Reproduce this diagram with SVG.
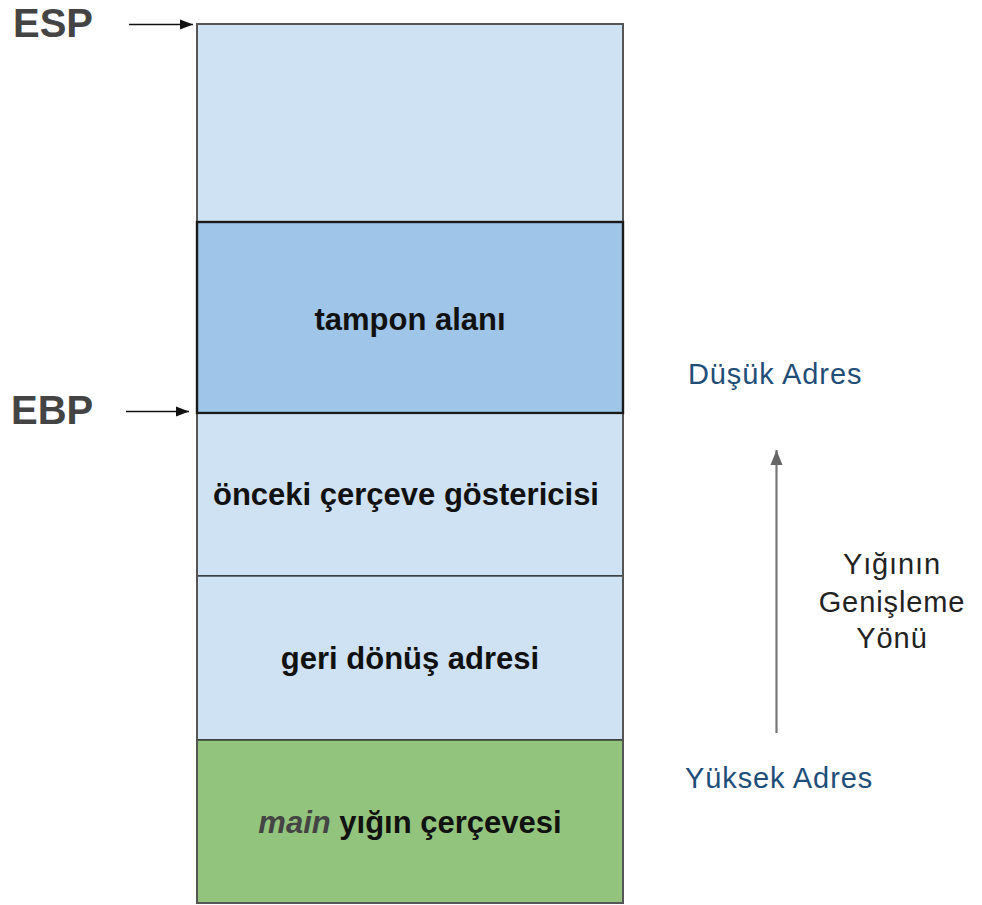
<svg xmlns="http://www.w3.org/2000/svg" width="982" height="905" viewBox="0 0 982 905">
  <style>
    .cell { stroke: #222; stroke-width: 1.2; }
    .light { fill: #cfe2f3; }
    .buf { fill: #9fc5e8; stroke: #1a1a1a; stroke-width: 2.2; }
    .main { fill: #93c47d; }
    .lbl { font-family: "Liberation Sans", Arial, sans-serif; font-weight: bold; font-size: 31px; fill: #111; text-anchor: middle; }
    .reg { font-family: "Liberation Sans", Arial, sans-serif; font-weight: bold; font-size: 40px; fill: #444; }
    .addr { font-family: "Liberation Sans", Arial, sans-serif; font-size: 29px; fill: #1f4e79; letter-spacing: 0.9px; }
    .dir { font-family: "Liberation Sans", Arial, sans-serif; font-size: 29px; fill: #222; text-anchor: middle; letter-spacing: 0.9px; }
    .ptr { stroke: #111; stroke-width: 1.6; fill: none; }
    .grow { stroke: #777; stroke-width: 2.2; fill: none; }
  </style>
  <defs>
    <marker id="headBlack" markerWidth="14" markerHeight="12" refX="13" refY="6" orient="auto" markerUnits="userSpaceOnUse">
      <path d="M0,1 L13,6 L0,11 Z" fill="#111"/>
    </marker>
    <marker id="headGray" markerWidth="16" markerHeight="14" refX="15" refY="7" orient="auto" markerUnits="userSpaceOnUse">
      <path d="M0,1 L15,7 L0,13 Z" fill="#666"/>
    </marker>
  </defs>

  <rect width="982" height="905" fill="#ffffff"/>

  <!-- free space above the buffer -->
  <g id="free">
    <rect class="light" x="197" y="24" width="426" height="198"/>
  </g>

  <!-- local buffer -->
  <g id="buffer">
    <rect class="buf" x="197" y="222" width="426" height="191"/>
    <text class="lbl" x="410" y="330">tampon alanı</text>
  </g>

  <!-- saved frame pointer -->
  <g id="saved-ebp">
    <rect class="light cell" x="197" y="413" width="426" height="163"/>
    <text class="lbl" x="406" y="505">önceki çerçeve göstericisi</text>
  </g>

  <!-- return address -->
  <g id="ret">
    <rect class="light cell" x="197" y="576" width="426" height="164"/>
    <text class="lbl" x="410" y="669">geri dönüş adresi</text>
  </g>

  <!-- caller frame -->
  <g id="main-frame">
    <rect class="main cell" x="197" y="740" width="426" height="163"/>
    <text class="lbl" x="410" y="833"><tspan font-style="italic" fill="#444">main</tspan> yığın çerçevesi</text>
  </g>

  <!-- outer frame border -->
  <rect x="197" y="24" width="426" height="879" fill="none" stroke="#555" stroke-width="2"/>
  <rect x="197" y="222" width="426" height="191" fill="none" stroke="#1a1a1a" stroke-width="2.2"/>

  <!-- register labels -->
  <g id="esp">
    <text class="reg" x="13" y="37">ESP</text>
  </g>
  <g id="ebp">
    <text class="reg" x="11" y="424">EBP</text>
  </g>

  <!-- address labels -->
  <g id="low-addr">
    <text class="addr" x="688" y="384">Düşük Adres</text>
  </g>
  <g id="high-addr">
    <text class="addr" x="685" y="788">Yüksek Adres</text>
  </g>
  <g id="direction">
    <text class="dir" x="892" y="574">Yığının</text>
    <text class="dir" x="892" y="612">Genişleme</text>
    <text class="dir" x="892" y="648">Yönü</text>
  </g>

  <!-- connectors -->
  <g id="connectors">
    <line class="ptr" x1="129" y1="24.5" x2="193" y2="24.5" marker-end="url(#headBlack)"/>
    <line class="ptr" x1="126" y1="411.5" x2="189" y2="411.5" marker-end="url(#headBlack)"/>
    <line class="grow" x1="776.5" y1="733" x2="776.5" y2="450" marker-end="url(#headGray)"/>
  </g>
</svg>
